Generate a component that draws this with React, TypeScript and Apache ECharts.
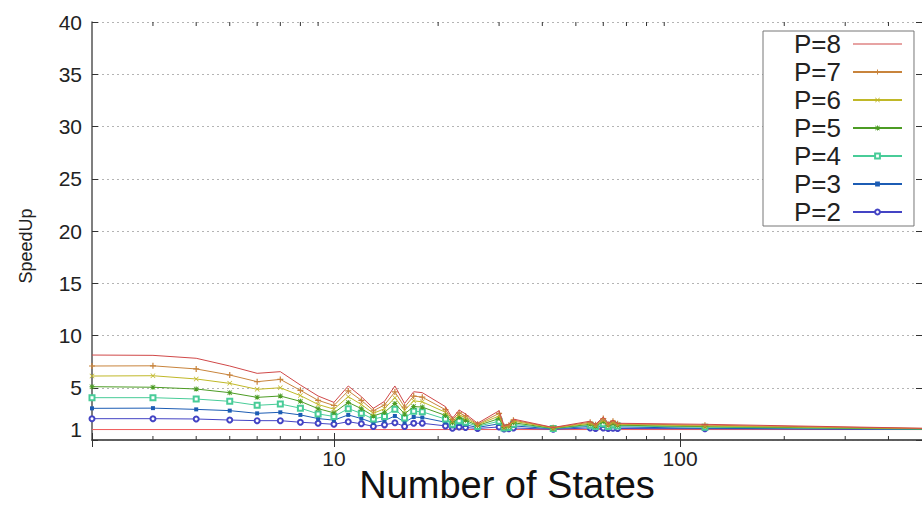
import React, { useEffect, useRef } from "react";
import * as echarts from "echarts";

const states = [2, 3, 4, 5, 6, 7, 8, 9, 10, 11, 12, 13, 14, 15, 16, 17, 18, 21, 22, 23, 24, 26, 30, 31, 32, 33, 43, 55, 57, 60, 62, 64, 66, 118, 512];
const p8 = [8.13, 8.1, 7.82, 7.08, 6.38, 6.54, 5.26, 4.21, 3.6, 5.17, 4.15, 3.03, 3.7, 5.17, 3.5, 4.62, 4.53, 3.19, 2.08, 2.87, 2.49, 1.6, 2.8, 1.4, 1.5, 2.0, 1.2, 1.8, 1.5, 2.2, 1.6, 1.9, 1.6, 1.5, 1.12];
const p7 = [7.08, 7.1, 6.8, 6.22, 5.58, 5.8, 4.75, 3.8, 3.3, 4.7, 3.8, 2.8, 3.35, 4.6, 3.15, 4.2, 4.1, 2.9, 1.95, 2.6, 2.3, 1.5, 2.55, 1.3, 1.4, 1.9, 1.18, 1.7, 1.45, 2.05, 1.5, 1.8, 1.55, 1.42, 1.1];
const p6 = [6.12, 6.15, 5.84, 5.42, 4.85, 5.0, 4.25, 3.4, 2.95, 4.15, 3.4, 2.55, 3.0, 4.05, 2.85, 3.75, 3.65, 2.65, 1.8, 2.4, 2.1, 1.45, 2.3, 1.25, 1.35, 1.8, 1.15, 1.6, 1.4, 1.9, 1.45, 1.7, 1.5, 1.35, 1.08];
const p5 = [5.1, 5.05, 4.88, 4.53, 4.08, 4.21, 3.7, 3.0, 2.6, 3.6, 3.0, 2.3, 2.65, 3.5, 2.5, 3.2, 3.15, 2.35, 1.65, 2.15, 1.9, 1.38, 2.05, 1.2, 1.3, 1.65, 1.12, 1.5, 1.35, 1.75, 1.4, 1.55, 1.42, 1.28, 1.06];
const p4 = [4.05, 4.05, 3.92, 3.7, 3.32, 3.44, 3.05, 2.5, 2.25, 3.0, 2.55, 2.0, 2.25, 2.95, 2.1, 2.75, 2.7, 2.0, 1.5, 1.85, 1.7, 1.3, 1.8, 1.15, 1.2, 1.5, 1.1, 1.4, 1.3, 1.55, 1.3, 1.45, 1.35, 1.22, 1.04];
const p3 = [3.03, 3.05, 2.93, 2.81, 2.55, 2.65, 2.4, 2.05, 1.9, 2.4, 2.05, 1.65, 1.85, 2.3, 1.7, 2.2, 2.15, 1.7, 1.3, 1.55, 1.45, 1.2, 1.55, 1.1, 1.15, 1.35, 1.07, 1.3, 1.2, 1.35, 1.2, 1.3, 1.25, 1.12, 1.02];
const p2 = [2.04, 2.04, 2.01, 1.91, 1.85, 1.85, 1.7, 1.6, 1.5, 1.75, 1.55, 1.3, 1.45, 1.65, 1.3, 1.6, 1.6, 1.35, 1.12, 1.25, 1.2, 1.1, 1.25, 1.05, 1.08, 1.15, 1.03, 1.15, 1.1, 1.15, 1.1, 1.12, 1.1, 1.08, 1.01];
const baselineX = [2, 512];
const baselineY = [1, 1];
const minorTicks = [3, 4, 5, 6, 7, 8, 9, 20, 30, 40, 50, 60, 70, 80, 90, 200, 300, 400];
const seriesNames = ["P=8", "P=7", "P=6", "P=5", "P=4", "P=3", "P=2"];

const FONT = "'Liberation Sans', Arial, Helvetica, sans-serif";

const PLUS = "path://M4,0H6V10H4Z M0,4H10V6H0Z";
const CROSS = "path://M0,1L1,0L10,9L9,10Z M9,0L10,1L1,10L0,9Z";
const STAR = "path://M4,0H6V10H4Z M0,4H10V6H0Z M0,1L1,0L10,9L9,10Z M9,0L10,1L1,10L0,9Z";
const LINE_ICON = "path://M0,0H0.02V6H0Z M0,2.5H49V3.5H0Z";

export default function App() {
  const ref = useRef<HTMLDivElement>(null);
  useEffect(() => {
    if (!ref.current) return;
    const chart = echarts.init(ref.current, null, { renderer: "svg" });
    const mk = (arr: number[]) => states.map((x, i) => [x, arr[i]]);
    const styles = [
      { data: p8, color: "#d04848", symbol: "none", size: 0, empty: false },
      { data: p7, color: "#c8843c", symbol: PLUS, size: 6, empty: false },
      { data: p6, color: "#c0b828", symbol: CROSS, size: 5, empty: false },
      { data: p5, color: "#4c9c24", symbol: STAR, size: 5, empty: false },
      { data: p4, color: "#48cc98", symbol: "emptyRect", size: 5, empty: true },
      { data: p3, color: "#1c5cb4", symbol: "rect", size: 4, empty: false },
      { data: p2, color: "#4444c4", symbol: "emptyCircle", size: 5, empty: true },
    ];
    const lineSeries = styles.map((s, i) => ({
      name: seriesNames[i],
      type: "line",
      data: mk(s.data),
      symbol: s.symbol,
      symbolSize: s.size,
      showSymbol: s.symbol !== "none",
      lineStyle: { color: s.color, width: 1 },
      itemStyle: s.empty
        ? { color: s.color, borderColor: s.color, borderWidth: 1 }
        : { color: s.color, borderWidth: 0 },
      z: 10 - i,
      clip: true,
    }));
    const axisColor = "#555";
    chart.setOption({
      animation: false,
      textStyle: { fontFamily: FONT },
      grid: { left: 92, right: 0, top: 22, bottom: 68, containLabel: false, outerBoundsMode: "none" },
      legend: {
        data: seriesNames.map((n) => (n === "P=8" ? { name: n, icon: LINE_ICON } : { name: n })),
        orient: "vertical",
        right: 8,
        top: 31,
        align: "right",
        itemWidth: 49,
        itemHeight: 6,
        itemGap: 2,
        padding: [0, 11, 1, 31],
        borderColor: "#777",
        borderWidth: 1,
        backgroundColor: "#fff",
        textStyle: { fontSize: 26, lineHeight: 26, color: "#222", fontFamily: FONT, padding: [0, 7, 0, 0] },
        z: 20,
      },
      xAxis: [
        {
          type: "log",
          logBase: 10,
          min: 2,
          max: 500,
          position: "bottom",
          name: "Number of States",
          nameLocation: "middle",
          nameGap: 25,
          nameMoveOverlap: false,
          nameTextStyle: { fontSize: 38, lineHeight: 40, color: "#111", fontFamily: FONT },
          axisLine: { show: true, lineStyle: { color: axisColor, width: 1.5 } },
          axisTick: { show: true, inside: true, length: 7, lineStyle: { color: "#333" } },
          axisLabel: {
            fontSize: 21,
            color: "#222",
            margin: 8,
            formatter: (v: number) =>
              Math.abs(v - 10) < 1e-6 || Math.abs(v - 100) < 1e-6 ? String(Math.round(v)) : "",
          },
          splitLine: { show: false },
        },
        {
          type: "log",
          logBase: 10,
          min: 2,
          max: 500,
          position: "top",
          axisLine: { show: true, lineStyle: { color: axisColor, width: 1.5 } },
          axisTick: { show: true, inside: true, length: 7, lineStyle: { color: "#333" } },
          axisLabel: { show: false },
          splitLine: { show: false },
        },
      ],
      yAxis: [
        {
          type: "value",
          min: 0,
          max: 40,
          interval: 5,
          position: "left",
          name: "SpeedUp",
          nameLocation: "middle",
          nameGap: 57,
          nameMoveOverlap: false,
          nameTextStyle: { fontSize: 18, color: "#222", fontFamily: FONT, padding: [0, 30, 0, 0] },
          axisLine: { show: true, lineStyle: { color: axisColor, width: 1.5 } },
          axisTick: { show: true, inside: true, length: 6, lineStyle: { color: "#333" } },
          axisLabel: {
            fontSize: 21,
            color: "#222",
            margin: 10,
            formatter: (v: number) => (v === 0 ? "" : String(v)),
          },
          splitLine: { show: true, lineStyle: { color: "#b4b4b4", type: [2, 3], width: 1 } },
        },
        {
          type: "value",
          min: 0,
          max: 40,
          interval: 1,
          position: "left",
          axisLine: { show: false },
          axisTick: { show: false },
          axisLabel: {
            fontSize: 21,
            color: "#222",
            margin: 10,
            formatter: (v: number) => (v === 1 ? "1" : ""),
          },
          splitLine: { show: false },
        },
        {
          type: "value",
          min: 0,
          max: 40,
          interval: 5,
          position: "right",
          axisLine: { show: false },
          axisTick: { show: true, inside: true, length: 6, lineStyle: { color: "#333" } },
          axisLabel: { show: false },
          splitLine: { show: false },
        },
      ],
      series: [
        {
          name: "base",
          type: "line",
          data: baselineX.map((x, i) => [x, baselineY[i]]),
          symbol: "none",
          lineStyle: { color: "#f05a5a", width: 1 },
          z: 1,
          clip: true,
        },
        ...lineSeries,
        {
          name: "minor",
          type: "custom",
          silent: true,
          data: minorTicks.map((v) => [v, 0]),
          encode: { x: 0, y: 1 },
          z: 30,
          renderItem: (params: any, api: any) => {
            const x = api.value(0);
            const b = api.coord([x, 0]);
            const t = api.coord([x, 40]);
            return {
              type: "group",
              children: [
                { type: "line", shape: { x1: b[0], y1: b[1], x2: b[0], y2: b[1] - 4 }, style: { stroke: "#333", lineWidth: 1 } },
                { type: "line", shape: { x1: t[0], y1: t[1], x2: t[0], y2: t[1] + 4 }, style: { stroke: "#333", lineWidth: 1 } },
              ],
            };
          },
        },
      ],
    });
    return () => chart.dispose();
  }, []);
  return <div ref={ref} style={{ position: "fixed", left: 0, top: 0, width: 922, height: 508, background: "#fff" }} />;
}
